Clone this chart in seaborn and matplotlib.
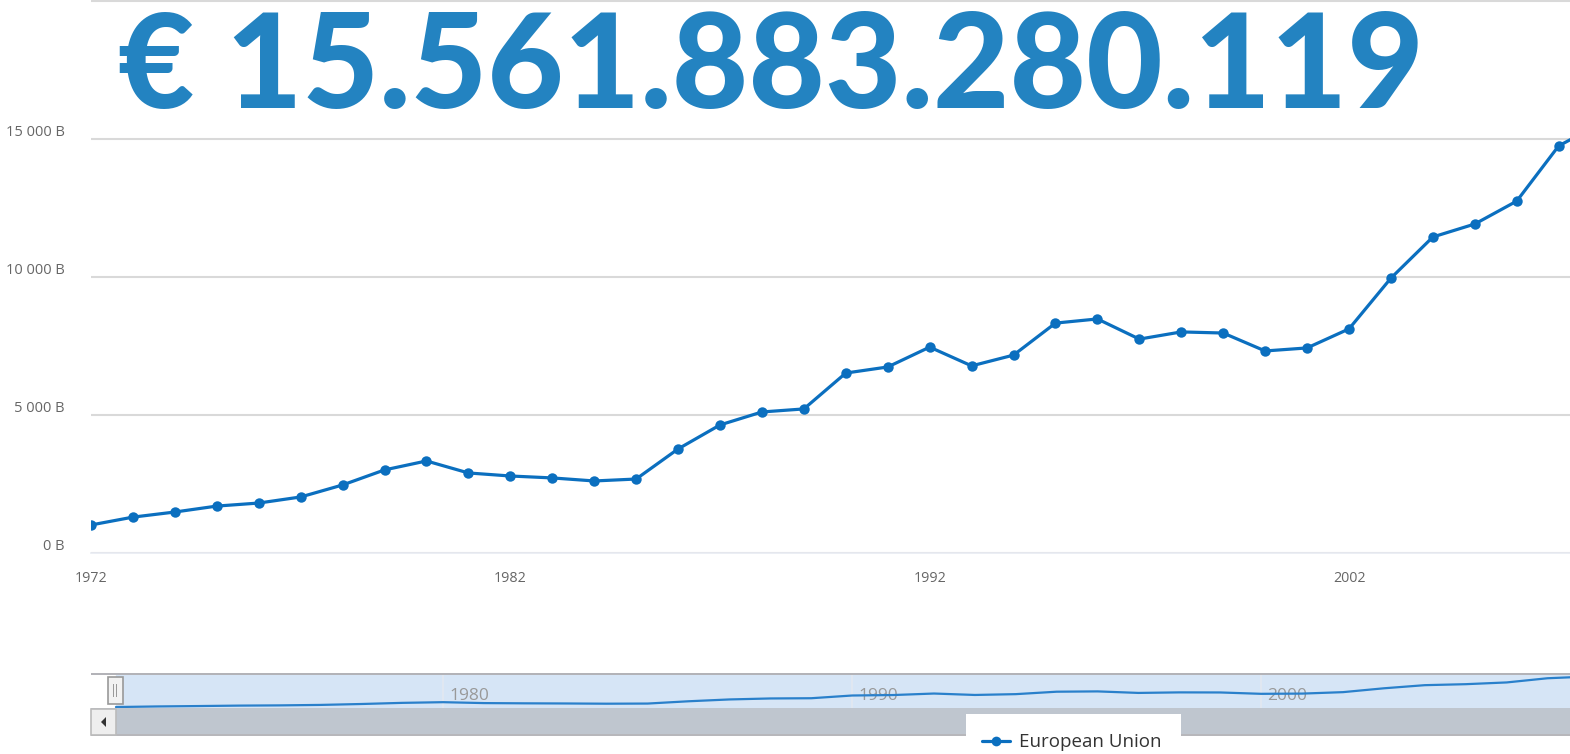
import matplotlib
matplotlib.use("Agg")
import matplotlib.pyplot as plt
import matplotlib.transforms as mtransforms
from matplotlib.patches import Rectangle, Polygon
import pandas as pd
import seaborn as sns

# data (billions of euro)
years = list(range(1972, 2009))
values = [1015, 1300, 1485, 1700, 1810, 2030, 2465, 3010, 3335, 2900,
          2790, 2720, 2610, 2680, 3770, 4640, 5110, 5220, 6520, 6740,
          7460, 6780, 7170, 8330, 8480, 7750, 8010, 7970, 7320, 7430,
          8120, 9960, 11450, 11920, 12750, 14750, 15562]
series_name = "European Union"
headline = "€ 15.561.883.280.119"
y_ticks = [0, 5000, 10000, 15000, 20000]
x_ticks = [1972, 1982, 1992, 2002]
nav_ticks = [1980, 1990, 2000]

df = pd.DataFrame({"year": years, "debt": values, "series": series_name})

sns.set_style("white")
plt.rcParams["font.family"] = ["Open Sans", "DejaVu Sans"]

W, H = 1570, 754
fig = plt.figure(figsize=(W / 100, H / 100), dpi=100)

def box(x0, y0, x1, y1):
    return [x0 / W, 1 - y1 / H, (x1 - x0) / W, (y1 - y0) / H]

line_color = "#0b6fbf"

# main chart
ax = fig.add_axes(box(91, 0, 1570, 553))
sns.lineplot(data=df, x="year", y="debt", ax=ax, color=line_color,
             linewidth=2.3, marker="o", markersize=7.5, markeredgewidth=0,
             legend=False, clip_on=True)
ax.set_xlim(1972, 2007.27)
ax.set_ylim(0, 20036)
ax.set_yticks(y_ticks)
ax.set_yticklabels([f"{v:,.0f} B".replace(",", " ") if v < 20000 else "" for v in y_ticks])
ax.set_xticks(x_ticks)
ax.set_xticklabels([str(v) for v in x_ticks])
ax.grid(axis="y", color="#d9d9d9", linewidth=1.5)
ax.set_axisbelow(True)
for s in ["top", "right", "left"]:
    ax.spines[s].set_visible(False)
ax.spines["bottom"].set_color("#e8ebf2")
ax.spines["bottom"].set_linewidth(1.2)
ax.tick_params(axis="y", length=0, pad=19, labelsize=10.5, labelcolor="#666666")
ax.tick_params(axis="x", length=8, width=1.2, color="#ccd6eb", pad=5,
               labelsize=10.3, labelcolor="#666666")
ax.set_xlabel("")
ax.set_ylabel("")
shift = mtransforms.ScaledTranslation(0, 8 / 100, fig.dpi_scale_trans)
for lab in ax.get_yticklabels():
    lab.set_transform(lab.get_transform() + shift)

# big headline number
fig.text(118 / W, 1 - 108 / H, headline, fontsize=95, fontweight="black",
         family=["Lato", "DejaVu Sans"], color="#2383c1", va="baseline", ha="left")

# navigator
nav = fig.add_axes(box(91, 675, 1570, 708))
nav.set_xlim(1971.39, 2007.55)
nav.set_ylim(560, 16300)
nav.axvspan(1972, 2007.55, color="#d6e5f6", zorder=0)
nav.plot(years, values, color="#2a80cb", linewidth=1.6, zorder=3)
for t in nav_ticks:
    nav.axvline(t, color="#e3e8f0", linewidth=1.2, zorder=1)
    nav.text(t + 0.15, 0.36, str(t), transform=nav.get_xaxis_transform(),
             color="#999999", fontsize=12.5, va="center", ha="left", zorder=2)
nav.set_xticks([])
nav.set_yticks([])
for s in nav.spines.values():
    s.set_visible(False)

# navigator outline, scrollbar and handle (pixel boxes)
def rect(x0, y0, x1, y1, **kw):
    fig.patches.append(Rectangle((x0 / W, 1 - y1 / H), (x1 - x0) / W, (y1 - y0) / H,
                                 transform=fig.transFigure, **kw))

rect(91, 673, 1570, 675, facecolor="#b3b3b8", edgecolor="none")
rect(91, 708, 1570, 735, facecolor="#bfc6cf", edgecolor="none")
rect(91, 734, 1570, 736, facecolor="#b7b7bb", edgecolor="none")
rect(91, 709, 116, 735, facecolor="#eeeeee", edgecolor="#bbbbbb", linewidth=1.2)
fig.patches.append(Polygon([(101 / W, 1 - 722 / H), (106 / W, 1 - 717 / H), (106 / W, 1 - 727 / H)],
                           closed=True, transform=fig.transFigure, facecolor="#333333",
                           edgecolor="none"))
rect(108, 677, 123, 704, facecolor="#f2f2f2", edgecolor="#999999", linewidth=1.2)
rect(113, 684, 114, 697, facecolor="#999999", edgecolor="none")
rect(116, 684, 117, 697, facecolor="#999999", edgecolor="none")

# legend box
rect(966, 714, 1181, 754, facecolor="white", edgecolor="none")
fig.lines.append(plt.Line2D([982 / W, 1010 / W], [1 - 741 / H, 1 - 741 / H],
                            transform=fig.transFigure, color=line_color, linewidth=2.3))
fig.lines.append(plt.Line2D([996 / W], [1 - 741 / H], transform=fig.transFigure,
                            color=line_color, marker="o", markersize=7, markeredgewidth=0))
fig.text(1019 / W, 1 - 742 / H, series_name, fontsize=13.5, color="#333333",
         va="center", ha="left")

fig.savefig("out.png", dpi=100)
